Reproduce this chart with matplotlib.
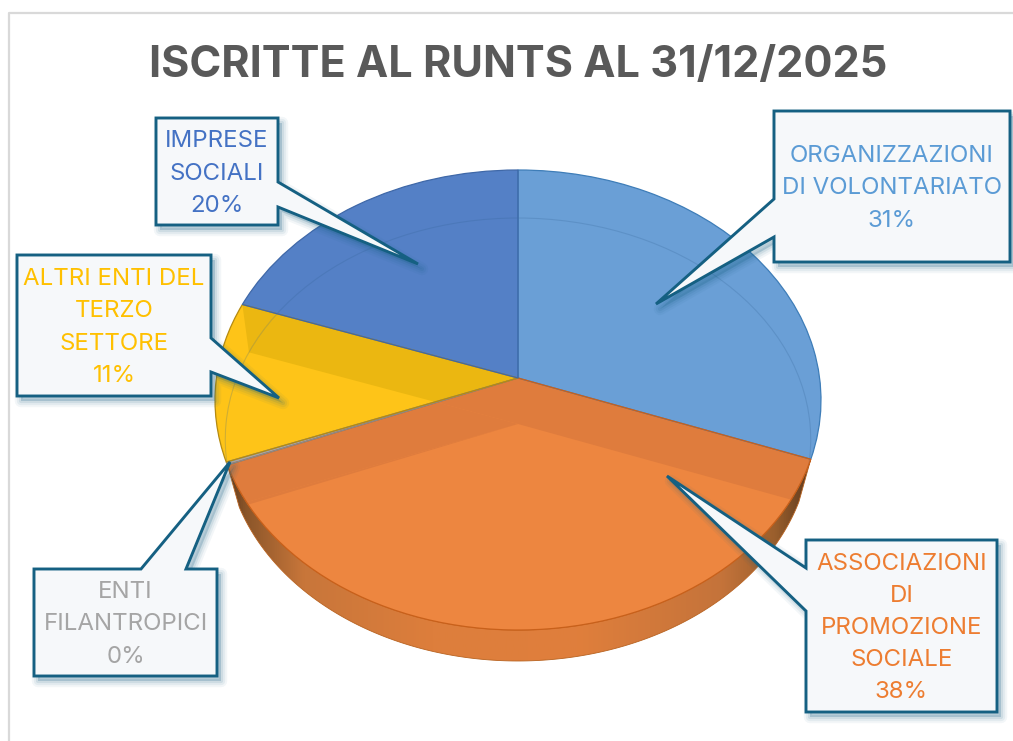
import numpy as np
import matplotlib
matplotlib.use("Agg")
import matplotlib.pyplot as plt
import matplotlib.patches as mpatches
import matplotlib.transforms as mtransforms
from matplotlib.colors import LinearSegmentedColormap
from matplotlib.path import Path

# Dati (clockwise from 12 o'clock)
labels = ["ORGANIZZAZIONI\nDI VOLONTARIATO", "ASSOCIAZIONI\nDI\nPROMOZIONE\nSOCIALE",
          "ENTI\nFILANTROPICI", "ALTRI ENTI DEL\nTERZO\nSETTORE", "IMPRESE\nSOCIALI"]
values = [30.6, 38.4, 0.2, 11.2, 19.6]
shown_pct = [31, 38, 0, 11, 20]
colors = ["#6A9FD6", "#ED8640", "#A5A5A5", "#FEC418", "#5480C6"]
dark_colors = ["#6A9FD6", "#DF7C3D", "#A5A5A5", "#EBB711", "#5480C6"]
edge_colors = ["#3E7DB8", "#C9601A", "#8A8A8A", "#B58A10", "#3F68A8"]
text_colors = ["#5B9BD5", "#ED7D31", "#A5A5A5", "#FFC000", "#4472C4"]
title = "ISCRITTE AL RUNTS AL 31/12/2025"

# callout: left, top, right, bottom, side, base start, base end, tip x, tip y
callouts = [
    (774, 111, 1010, 262, "left", 199, 237, 656, 304),
    (806, 540, 997, 712, "left", 568, 611, 667, 476),
    (34, 569, 217, 676, "top", 141, 186, 230, 462),
    (17, 255, 211, 396, "right", 338, 372, 279, 398),
    (156, 118, 278, 225, "right", 182, 207, 418, 264),
]
BORDER = "#156082"
FONT = "Inter"


class Persp(mtransforms.Transform):
    # unit disc -> tilted disc in pixel coordinates
    input_dims = 2
    output_dims = 2
    is_separable = False
    has_inverse = False

    def __init__(self, cx, cy, t, s, k):
        super().__init__()
        self.cx, self.cy, self.t, self.s, self.k = cx, cy, t, s, k

    def transform_non_affine(self, xy):
        xy = np.asarray(xy, dtype=float)
        w = 1 + self.k * xy[:, 1]
        return np.column_stack((self.cx + self.t * xy[:, 0] / w, self.cy - self.s * xy[:, 1] / w))


fig = plt.figure(figsize=(10.13, 7.41), dpi=100)
ax = fig.add_axes([0, 0, 1, 1])

top_disc = Persp(518, 378, 301.6, 227.9, 0.0957)
low_disc = Persp(518, 424, 292, 220.4, 0.070)


def draw_pie(persp, z, fill=None, edge=None, lw=0):
    wedges, _ = ax.pie(values, startangle=90, counterclock=False, radius=1,
                       colors=fill if fill else ["none"] * len(values))
    for i, w in enumerate(wedges):
        w.set_transform(persp + ax.transData)
        w.set_zorder(z)
        w.set_linewidth(lw)
        w.set_edgecolor(edge[i] if edge else "none")
    return wedges


def rim(wedge):
    ang = np.radians(np.linspace(wedge.theta1, wedge.theta2, 200))
    return np.column_stack((np.cos(ang), np.sin(ang)))


def outline(wedge, persp):
    # wedge outline as a dense polygon in pixel coordinates, for clipping
    return persp.transform_non_affine(np.vstack(([[0, 0]], rim(wedge), [[0, 0]])))


def wall_polygon(wedge):
    arc = rim(wedge)
    return np.vstack((top_disc.transform_non_affine(arc), low_disc.transform_non_affine(arc[::-1])))


top = draw_pie(top_disc, 2, fill=colors)

# side wall of the orange slice
wall_xy = wall_polygon(top[1])
wall_cmap = LinearSegmentedColormap.from_list("wall", [
    (0, "#5F3A1E"), (0.03, "#8A5529"), (0.13, "#C8763A"), (0.35, "#DD7E3C"), (0.6, "#E07F3C"),
    (0.85, "#C4733A"), (0.94, "#9A5F2D"), (1, "#5F3A1E")])
wall_grad = ax.imshow(np.linspace(0, 1, 256)[None, :], extent=(wall_xy[:, 0].min(), wall_xy[:, 0].max(), 741, 0),
                      cmap=wall_cmap, aspect="auto", zorder=1)
wall_grad.set_clip_path(Path(wall_xy, closed=False), ax.transData)
ax.add_patch(mpatches.Polygon(wall_xy, closed=True, fc="none", ec="#B8621F", lw=0.6, zorder=1.1))

# the bottom disc shows through the glass: darker where it does not match
for i in (1, 3):
    clip = Path(outline(top[i], top_disc))
    low = draw_pie(low_disc, 2.1, fill=[dark_colors[i]] * len(values))
    for j, w in enumerate(low):
        w.set_clip_on(True)
        w.set_clip_path(clip, ax.transData)
        if j == i:
            w.set_visible(False)
        else:
            # the far walls of the other slices show through too
            seen = ax.add_patch(mpatches.Polygon(wall_polygon(top[j]), closed=True, fc=dark_colors[i],
                                                 ec="none", zorder=2.1))
            seen.set_clip_path(clip, ax.transData)

disc_ang = np.radians(np.linspace(0, 360, 360))
disc_xy = top_disc.transform_non_affine(np.column_stack((np.cos(disc_ang), np.sin(disc_ang))))
low_rim = ax.add_patch(mpatches.Circle((0, 0), 1, fc="none", ec="#2F5F90", lw=0.8, alpha=0.22,
                                       transform=low_disc + ax.transData, zorder=2.2))
low_rim.set_clip_path(Path(disc_xy), ax.transData)
draw_pie(top_disc, 2.3, edge=edge_colors, lw=0.9)

# cornice del grafico
ax.plot([9, 9, 1013], [741, 13, 13], color="#D9D9D9", lw=1.6, zorder=0.5)


def callout(spec, text, color):
    l, t, r, b, side, b1, b2, tx, ty = spec
    if side == "left":
        pts = [(l, t), (r, t), (r, b), (l, b), (l, b2), (tx, ty), (l, b1)]
    elif side == "right":
        pts = [(l, t), (r, t), (r, b1), (tx, ty), (r, b2), (r, b), (l, b)]
    else:
        pts = [(l, t), (b1, t), (tx, ty), (b2, t), (r, t), (r, b), (l, b)]
    pts = np.array(pts, dtype=float)
    for lw, al in ((9, 0.05), (6, 0.07), (3, 0.10)):
        ax.add_patch(mpatches.Polygon(pts + (4, 5), closed=True, fc=BORDER, ec=BORDER, lw=lw, alpha=al,
                                      joinstyle="round", zorder=3))
    ax.add_patch(mpatches.Polygon(pts, closed=True, fc="#F6F8FA", ec=BORDER, lw=2.1, joinstyle="miter", zorder=4))
    ax.text((l + r) / 2, (t + b) / 2 + 2, text, color=color, ha="center", va="center", fontsize=17.3,
            family=FONT, linespacing=1.6, zorder=5)


for i, spec in enumerate(callouts):
    callout(spec, f"{labels[i]}\n{shown_pct[i]}%", text_colors[i])

ax.text(518, 66, title, color="#595959", ha="center", va="center", fontsize=31.1, fontweight="bold", family=FONT)

ax.set_aspect("auto")
ax.set_xlim(0, 1013)
ax.set_ylim(741, 0)
ax.axis("off")
fig.savefig("out.png", dpi=100, facecolor="white")
